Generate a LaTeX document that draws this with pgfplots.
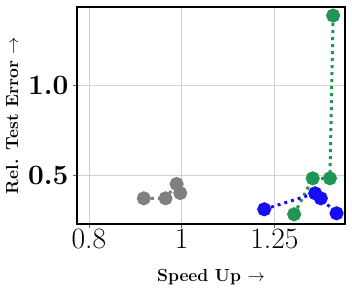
\documentclass[border=0pt]{standalone}
\usepackage{pgfplots}
\pgfplotsset{compat=1.18}
\definecolor{cgray}{RGB}{128,128,128}
\definecolor{cgreen}{RGB}{32,150,84}
\definecolor{cblue}{RGB}{24,12,245}
\begin{document}
\begin{tikzpicture}
\begin{axis}[
  name=ax,
  scale only axis,
  width=268pt, height=217pt,
  xmode=log,
  log basis x=10,
  xmin=0.7775, xmax=1.4818,
  ymin=0.2257, ymax=1.4407,
  xtick={0.8,1,1.25},
  xticklabels={\textnormal{0.8},\textnormal{1},\textnormal{1.25}},
  ytick={0.5,1.0},
  yticklabels={\textbf{0.5},\textbf{1.0}},
  minor xtick={}, minor ytick={},
  grid=major,
  major grid style={line width=0.8pt, black!18},
  axis line style={line width=1.2pt},
  tick align=outside,
  xtick pos=bottom, ytick pos=left,
  major tick length=4pt,
  tick style={line width=0.8pt, black!60},
  xticklabel style={font=\fontsize{29.5}{33}\selectfont, yshift=3pt},
  yticklabel style={font=\fontsize{28}{32}\selectfont, xshift=-1pt},
  xlabel={\bfseries Speed Up $\rightarrow$},
  ylabel={\bfseries Rel. Test Error $\rightarrow$},
  label style={font=\fontsize{17.5}{20}\selectfont},
  xlabel style={yshift=-14pt},
  ylabel style={yshift=3pt},
]
\addplot[cgray, line width=3pt, dash pattern=on 3pt off 4pt, mark=*, mark size=5.5pt, mark options={solid, fill=cgray, draw=cgray}] coordinates {
 (0.913,0.3695) (0.962,0.3695) (0.988,0.4496) (0.9966,0.399)
};
\addplot[cgreen, line width=3pt, dash pattern=on 3pt off 4pt, mark=*, mark size=5.5pt, mark options={solid, fill=cgreen, draw=cgreen}] coordinates {
 (1.311,0.280) (1.371,0.4815) (1.429,0.4815) (1.440,1.3928)
};
\addplot[cblue, line width=3pt, dash pattern=on 3pt off 4pt, mark=*, mark size=5.5pt, mark options={solid, fill=cblue, draw=cblue}] coordinates {
 (1.220,0.308) (1.379,0.3975) (1.398,0.3695) (1.452,0.2856)
};
\end{axis}
\pgfresetboundingbox
\path[use as bounding box] ([shift={(-77pt,-72pt)}]ax.south west) rectangle ([shift={(7pt,7pt)}]ax.north east);
\end{tikzpicture}
\end{document}
